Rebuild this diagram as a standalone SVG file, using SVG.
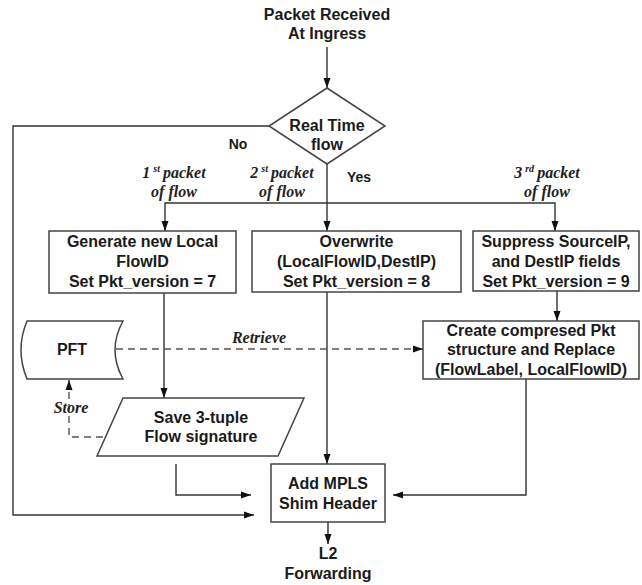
<svg xmlns="http://www.w3.org/2000/svg" width="642" height="585" viewBox="0 0 642 585">
<style>
.box{fill:#fff;stroke:#444;stroke-width:1.5}
.ln{fill:none;stroke:#333;stroke-width:1.4}
.dash{fill:none;stroke:#555;stroke-width:1.4;stroke-dasharray:7,5}
.t{font-family:"Liberation Sans",Arial,sans-serif;font-weight:bold;font-size:16px;fill:#1a1a1a;text-anchor:middle}
.s{font-size:14px}
.i{font-family:"Liberation Serif","Times New Roman",serif;font-weight:bold;font-style:italic;font-size:16px;fill:#222;text-anchor:middle}
.sup{font-size:10px}
</style>
<defs>
<marker id="ah" markerUnits="userSpaceOnUse" markerWidth="10" markerHeight="8" refX="10" refY="4" orient="auto">
<path d="M0,0.5 L10,4 L0,7.5 Z" fill="#111"/>
</marker>
</defs>
<rect width="642" height="585" fill="#fff"/>

<g id="connectors">
<line class="ln" x1="327" y1="47" x2="327" y2="88" marker-end="url(#ah)"/>
<polyline class="ln" points="269,126 13,126 13,515 254,515" marker-end="url(#ah)"/>
<line class="ln" x1="327" y1="164" x2="327" y2="231" marker-end="url(#ah)"/>
<polyline class="ln" points="327,203 165,203 165,231" marker-end="url(#ah)"/>
<polyline class="ln" points="327,203 555,203 555,231" marker-end="url(#ah)"/>
<line class="ln" x1="164" y1="293" x2="164" y2="398" marker-end="url(#ah)"/>
<line class="ln" x1="327" y1="292" x2="327" y2="464" marker-end="url(#ah)"/>
<line class="ln" x1="557" y1="291" x2="557" y2="321" marker-end="url(#ah)"/>
<line class="dash" x1="116" y1="349" x2="423" y2="349" marker-end="url(#ah)"/>
<polyline class="dash" points="103,437 69,437 69,380" marker-end="url(#ah)"/>
<polyline class="ln" points="176,464 176,495 251,495" marker-end="url(#ah)"/>
<polyline class="ln" points="526,379 526,495 393,495" marker-end="url(#ah)"/>
<line class="ln" x1="328" y1="522" x2="328" y2="544" marker-end="url(#ah)"/>
<text class="t s" x="238" y="149">No</text>
<text class="t s" x="359" y="182">Yes</text>
<text class="i" x="174" y="178">1<tspan class="sup" dx="3" dy="-6">st</tspan><tspan dx="3" dy="6">packet</tspan></text>
<text class="i" x="174" y="197">of  flow</text>
<text class="i" x="282" y="178">2<tspan class="sup" dx="3" dy="-6">st</tspan><tspan dx="3" dy="6">packet</tspan></text>
<text class="i" x="282" y="197">of  flow</text>
<text class="i" x="547" y="178">3<tspan class="sup" dx="3" dy="-6">rd</tspan><tspan dx="3" dy="6">packet</tspan></text>
<text class="i" x="547" y="197">of flow</text>
<text class="i" x="259" y="343">Retrieve</text>
<text class="i" x="71" y="413">Store</text>
</g>

<g id="start">
<text class="t" x="327" y="20">Packet Received</text>
<text class="t" x="327" y="39">At Ingress</text>
</g>

<g id="decision">
<polygon class="box" points="327,88 385,126 327,164 269,126"/>
<text class="t" x="327" y="131">Real Time</text>
<text class="t" x="327" y="150">flow</text>
</g>

<g id="box1">
<rect class="box" x="49" y="231" width="187" height="62"/>
<text class="t" x="142.5" y="247">Generate new Local</text>
<text class="t" x="142.5" y="267">FlowID</text>
<text class="t" x="142.5" y="287">Set Pkt_version = 7</text>
</g>

<g id="box2">
<rect class="box" x="252" y="231" width="209" height="61"/>
<text class="t" x="356.5" y="247">Overwrite</text>
<text class="t" x="356.5" y="267">(LocalFlowID,DestIP)</text>
<text class="t" x="356.5" y="287">Set Pkt_version = 8</text>
</g>

<g id="box3">
<rect class="box" x="473" y="231" width="166" height="60"/>
<text class="t" x="556" y="247">Suppress SourceIP,</text>
<text class="t" x="556" y="267">and DestIP fields</text>
<text class="t" x="556" y="287">Set Pkt_version = 9</text>
</g>

<g id="pft">
<path class="box" d="M27,321 H123 Q107,350 123,379 H27 Q15,350 27,321 Z"/>
<text class="t" x="72" y="355">PFT</text>
</g>

<g id="box4">
<rect class="box" x="423" y="321" width="216" height="58"/>
<text class="t" x="531" y="336">Create compresed Pkt</text>
<text class="t" x="531" y="355">structure and Replace</text>
<text class="t" x="531" y="375">(FlowLabel, LocalFlowID)</text>
</g>

<g id="save">
<polygon class="box" points="123,398 304,398 278,456 97,456"/>
<text class="t" x="201" y="423">Save 3-tuple</text>
<text class="t" x="201" y="442">Flow signature</text>
</g>

<g id="mpls">
<rect class="box" x="271" y="464" width="114" height="58"/>
<text class="t" x="328" y="489">Add MPLS</text>
<text class="t" x="328" y="509">Shim Header</text>
</g>

<g id="end">
<text class="t" x="328" y="559">L2</text>
<text class="t" x="328" y="579">Forwarding</text>
</g>
</svg>
